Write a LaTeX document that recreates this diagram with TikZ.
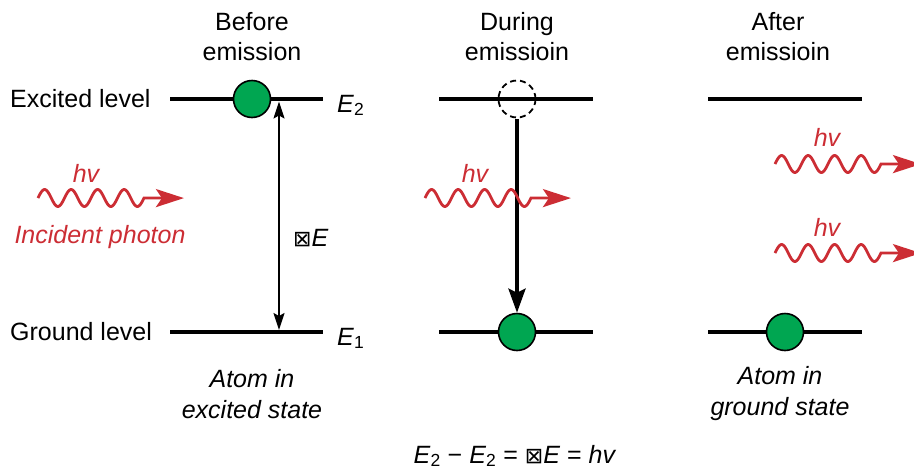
\documentclass[tikz,border=0pt]{standalone}
\usepackage{fontspec}
\setmainfont{Liberation Sans}
\newfontfamily\symfont{DejaVu Sans}
\usetikzlibrary{arrows.meta}
\definecolor{phred}{RGB}{204,45,52}
\definecolor{atomgreen}{RGB}{0,166,81}
\begin{document}
\begin{tikzpicture}[x=1pt,y=-1pt,
  lvl/.style={line width=3.3pt},
  txt/.style={font=\fontsize{25}{30}\selectfont, align=center, inner sep=0pt},
  rtxt/.style={txt, text=phred, font=\fontsize{25}{30}\selectfont\itshape},
  atom/.style={circle, draw=black, line width=1.6pt, fill=atomgreen, minimum size=37pt, inner sep=0pt},
  ghost/.style={circle, draw=black, line width=1.8pt, dash pattern=on 6pt off 4pt, minimum size=37pt, inner sep=0pt},
  photon/.pic={\draw[phred, line width=2.8pt, -{Stealth[length=28pt,width=18pt,inset=6pt]}]
      plot[domain=0:4, samples=160, smooth] ({26.5*\x},{-8.5*sin(360*\x)}) -- ++(40,0);}
]
\useasboundingbox (0,0) rectangle (914,472);

% level lines
\coordinate (e1a) at (170,99);  \coordinate (e1b) at (323,99);
\coordinate (g1a) at (170,332); \coordinate (g1b) at (323,332);
\coordinate (e2a) at (439,99);  \coordinate (e2b) at (593,99);
\coordinate (g2a) at (439,332); \coordinate (g2b) at (593,332);
\coordinate (e3a) at (708,99);  \coordinate (e3b) at (862,99);
\coordinate (g3a) at (708,332); \coordinate (g3b) at (862,332);
\draw[lvl] (e1a) -- (e1b);
\draw[lvl] (g1a) -- (g1b);
\draw[lvl] (e2a) -- (e2b);
\draw[lvl] (g2a) -- (g2b);
\draw[lvl] (e3a) -- (e3b);
\draw[lvl] (g3a) -- (g3b);

% atoms
\node[atom] (a1) at (252,99) {};
\node[ghost] (a2) at (517,99) {};
\node[atom] (b2) at (517,332) {};
\node[atom] (b3) at (785,332) {};

% energy gap arrow
\coordinate (dt) at (279,101.5);
\coordinate (db) at (279,330);
\draw[line width=1.8pt, {Stealth[length=17pt,width=11pt,inset=3pt]}-{Stealth[length=17pt,width=11pt,inset=3pt]}] (dt) -- (db);

% decay arrow
\draw[line width=3.8pt, -{Stealth[length=24pt,width=17pt,inset=4pt]}, shorten <=1pt] (a2.south) -- (b2.north);

% photons
\pic at (38,198) {photon};
\pic at (425,198) {photon};
\pic at (775,164) {photon};
\pic at (775,253) {photon};

% texts
\node[txt] (t1) at (252,37) {Before\\emission};
\node[txt] (t2) at (517,37) {During\\emissioin};
\node[txt] (t3) at (778,37) {After\\emissioin};
\node[txt, anchor=base west] (lex) at (10,107) {Excited level};
\node[txt, anchor=base west] (lgr) at (10,340) {Ground level};
\node[txt, anchor=base west] (E2) at (337,112) {\textit{E}\textsubscript{2}};
\node[txt, anchor=base west] (E1) at (337,345) {\textit{E}\textsubscript{1}};
\node[txt, anchor=base west] (dE) at (293,246) {{\symfont\fontsize{22}{24}\selectfont ⊠}\textit{E}};
\node[rtxt] (hv1) at (86,173) {hv};
\node[rtxt] (inc) at (100,237) {Incident photon};
\node[rtxt] (hv2) at (475,173) {hv};
\node[rtxt] (hv3) at (827,137) {hv};
\node[rtxt] (hv4) at (827,227) {hv};
\node[txt, font=\fontsize{25}{31}\selectfont\itshape] (s1) at (252,394) {Atom in\\excited state};
\node[txt, font=\fontsize{25}{31}\selectfont\itshape] (s3) at (780,394) {Atom in\\ground state};
\node[txt] (eq) at (515,456) {\textit{E}\textsubscript{2} − \textit{E}\textsubscript{2} = {\symfont\fontsize{22}{24}\selectfont ⊠}\textit{E} = \textit{hv}};
\end{tikzpicture}
\end{document}
